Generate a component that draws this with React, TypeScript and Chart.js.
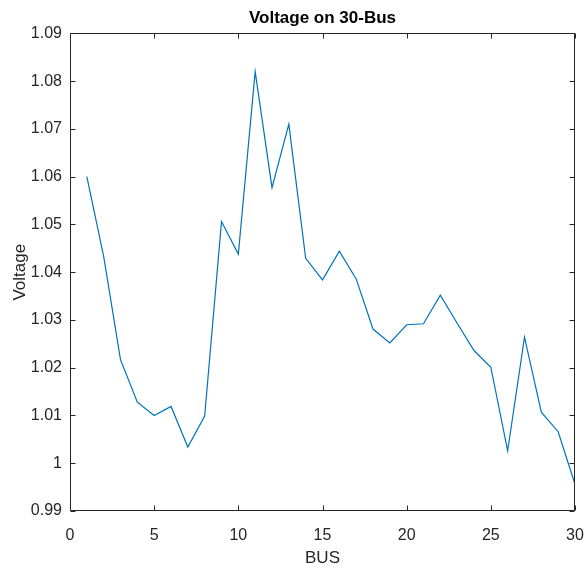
import React, { useEffect, useRef } from "react";
import { Chart, registerables } from "chart.js";

Chart.register(...registerables);

const busNumbers = [1, 2, 3, 4, 5, 6, 7, 8, 9, 10, 11, 12, 13, 14, 15, 16, 17, 18, 19, 20, 21, 22, 23, 24, 25, 26, 27, 28, 29, 30];
const voltages = [
  1.06, 1.0433, 1.0217, 1.0128, 1.01, 1.0119, 1.0034, 1.0099, 1.0506, 1.0438,
  1.082, 1.0577, 1.071, 1.0429, 1.0384, 1.0444, 1.0386, 1.0281, 1.0252, 1.029,
  1.0292, 1.0352, 1.0293, 1.0236, 1.0201, 1.0026, 1.0264, 1.0107, 1.0066, 0.9956,
];
const xTicks = [0, 5, 10, 15, 20, 25, 30];
const yTicks = [0.99, 1.0, 1.01, 1.02, 1.03, 1.04, 1.05, 1.06, 1.07, 1.08, 1.09];

const FONT = "'Liberation Sans', Arial, Helvetica, sans-serif";
const AXIS_COLOR = "#262626";

const boxPlugin = {
  id: "matlabBox",
  afterDraw(chart: any) {
    const { ctx, chartArea } = chart;
    const { left, right, top, bottom } = chartArea;
    const xs = chart.scales.x;
    const ys = chart.scales.y;
    const L = Math.round(left) + 0.5;
    const R = Math.round(right) - 0.5;
    const T = Math.round(top) + 0.5;
    const B = Math.round(bottom) - 0.5;
    const len = 5;
    ctx.save();
    ctx.strokeStyle = AXIS_COLOR;
    ctx.lineWidth = 1;
    ctx.beginPath();
    ctx.rect(L, T, R - L, B - T);
    xTicks.forEach((v) => {
      const px = Math.round(xs.getPixelForValue(v)) + 0.5;
      ctx.moveTo(px, B);
      ctx.lineTo(px, B - len);
      ctx.moveTo(px, T);
      ctx.lineTo(px, T + len);
    });
    yTicks.forEach((v) => {
      const py = Math.round(ys.getPixelForValue(v)) + 0.5;
      ctx.moveTo(L, py);
      ctx.lineTo(L + len, py);
      ctx.moveTo(R, py);
      ctx.lineTo(R - len, py);
    });
    ctx.stroke();
    ctx.restore();
  },
};

export default function App() {
  const ref = useRef<HTMLCanvasElement>(null);
  useEffect(() => {
    if (!ref.current) return;
    const chart = new Chart(ref.current, {
      type: "line",
      data: {
        datasets: [
          {
            data: busNumbers.map((b, i) => ({ x: b, y: voltages[i] })),
            borderColor: "#0072BD",
            borderWidth: 1.2,
            pointRadius: 0,
            fill: false,
            tension: 0,
          },
        ],
      },
      options: {
        animation: false,
        responsive: false,
        layout: { padding: { left: 0, right: 9, top: 0, bottom: 0 } },
        plugins: {
          legend: { display: false },
          tooltip: { enabled: false },
          title: {
            display: true,
            text: "Voltage on 30-Bus",
            fullSize: false,
            color: "#000",
            font: { family: FONT, size: 17, weight: "bold" },
            padding: { top: 8, bottom: 5 },
          },
        },
        scales: {
          x: {
            type: "linear",
            min: 0,
            max: 30,
            afterFit: (s: any) => {
              s.height = 61;
              s.paddingLeft = 0;
              s.paddingRight = 0;
            },
            afterBuildTicks: (s: any) => {
              s.ticks = xTicks.map((v) => ({ value: v }));
            },
            grid: { display: false, drawTicks: false },
            border: { display: false },
            ticks: {
              padding: 15,
              color: AXIS_COLOR,
              font: { family: FONT, size: 16 },
              maxRotation: 0,
              callback: (v: any) => String(v),
            },
            title: {
              display: true,
              text: "BUS",
              color: AXIS_COLOR,
              font: { family: FONT, size: 17 },
              padding: { top: 0, bottom: 3 },
            },
          },
          y: {
            type: "linear",
            min: 0.99,
            max: 1.09,
            afterFit: (s: any) => {
              s.width = 70;
              s.paddingTop = 0;
              s.paddingBottom = 0;
            },
            afterBuildTicks: (s: any) => {
              s.ticks = yTicks.map((v) => ({ value: v }));
            },
            grid: { display: false, drawTicks: false },
            border: { display: false },
            ticks: {
              padding: 8,
              color: AXIS_COLOR,
              font: { family: FONT, size: 16 },
              callback: (v: any) => String(parseFloat(Number(v).toFixed(2))),
            },
            title: {
              display: true,
              text: "Voltage",
              color: AXIS_COLOR,
              font: { family: FONT, size: 17 },
              padding: { top: 10, bottom: 0 },
            },
          },
        },
      },
      plugins: [boxPlugin],
    });
    return () => chart.destroy();
  }, []);
  return (
    <div style={{ position: "fixed", left: 0, top: 0, width: 584, height: 572, background: "#fff" }}>
      <canvas ref={ref} width={584} height={572} style={{ width: 584, height: 572, display: "block" }} />
    </div>
  );
}
